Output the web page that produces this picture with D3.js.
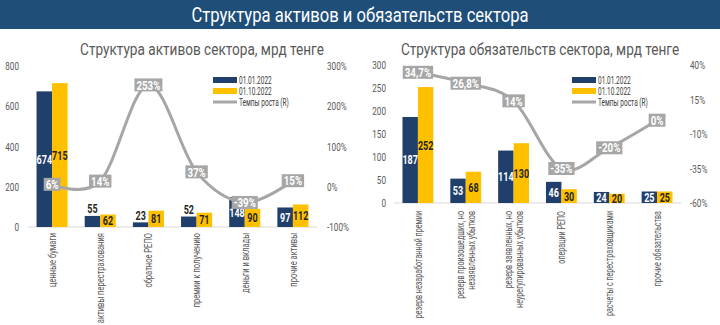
<!DOCTYPE html>
<html><head><meta charset="utf-8">
<script src="https://cdn.jsdelivr.net/npm/d3@7"></script>
<style>
html,body{margin:0;padding:0;background:#fff;}
svg text{font-family:"Roboto","Noto Sans",sans-serif;}
</style></head><body>
<svg id="c" width="720" height="325"></svg>
<script>
const title = "Структура активов и обязательств сектора";
const seriesNames = ["01.01.2022", "01.10.2022", "Темпы роста (R)"];

const assetTitle = "Структура активов сектора, мрд тенге";
const assetCats = [["ценные бумаги"], ["активы перестрахования"], ["обратное РЕПО"], ["премии к получению"], ["деньги и вклады"], ["прочие активы"]];
const assetStart = [674, 55, 23, 52, 148, 97];
const assetEnd = [715, 62, 81, 71, 90, 112];
const assetGrowth = [6, 14, 253, 37, -39, 15];
const assetGrowthLabels = ["6%", "14%", "253%", "37%", "-39%", "15%"];
const assetLeftTicks = [0, 200, 400, 600, 800];
const assetRightTicks = [-100, 0, 100, 200, 300];

const liabTitle = "Структура обязательств сектора, мрд тенге";
const liabCats = [["резерв незаработанной премии"], ["резерв произошедших, но", "незаявленных убытков"], ["резерв заявленных, но", "неурегулированных убытков"], ["операции РЕПО"], ["расчеты с перестраховщиками"], ["прочие обязательства"]];
const liabStart = [187, 53, 114, 46, 24, 25];
const liabEnd = [252, 68, 130, 30, 20, 25];
const liabGrowth = [34.7, 26.8, 14, -35, -20, 0];
const liabGrowthLabels = ["34,7%", "26,8%", "14%", "-35%", "-20%", "0%"];
const liabLeftTicks = [0, 50, 100, 150, 200, 250, 300];
const liabRightTicks = [-60, -35, -10, 15, 40];

const BLUE = "#213f6b", YELLOW = "#ffc000", GRAY = "#a6a6a6", TXT = "#595959";
const NARROW = 0.74;
const svg = d3.select("#c");

function condense(sel, f) {
  sel.each(function () {
    const n = this;
    const spans = n.querySelectorAll("tspan");
    const targets = spans.length ? Array.from(spans) : [n];
    targets.forEach(t => {
      const L = t.getComputedTextLength();
      if (L > 0) { t.setAttribute("textLength", (L * (f || NARROW)).toFixed(2)); t.setAttribute("lengthAdjust", "spacingAndGlyphs"); }
    });
  });
}

svg.append("rect").attr("x", 0).attr("y", 0).attr("width", 720).attr("height", 29).attr("fill", "#1f4e79");
svg.append("text").attr("x", 360).attr("y", 15).attr("dy", "0.36em").attr("text-anchor", "middle")
  .attr("fill", "#fff").attr("font-size", 20).text(title).call(condense, 0.83);

function drawChart(o) {
  const g = svg.append("g");
  const x = d3.scaleBand().domain(d3.range(o.cats.length)).range(o.xr).padding(0);
  const x1 = d3.scaleBand().domain([0, 1]).range([0, x.bandwidth()]).paddingInner(0).paddingOuter(0.55);
  const yL = d3.scaleLinear().domain(o.ld).range(o.yr);
  const yR = d3.scaleLinear().domain(o.rd).range(o.yr);

  g.append("text").attr("x", o.titleX).attr("y", 49).attr("dy", "0.36em").attr("text-anchor", "middle")
    .attr("fill", TXT).attr("font-size", 17).text(o.title).call(condense, 0.8);

  const la = g.append("g").attr("transform", `translate(${o.laX},0)`)
    .call(d3.axisLeft(yL).tickValues(o.lt).tickSize(0).tickPadding(0));
  la.select(".domain").remove();
  la.selectAll("text").attr("fill", TXT).attr("font-size", 11).style("font-family", null).call(condense);
  const ra = g.append("g").attr("transform", `translate(${o.raX},0)`)
    .call(d3.axisRight(yR).tickValues(o.rt).tickSize(0).tickPadding(0).tickFormat(d => d + "%"));
  ra.select(".domain").remove();
  ra.selectAll("text").attr("fill", TXT).attr("font-size", 11).style("font-family", null).call(condense);

  g.append("line").attr("x1", o.xr[0]).attr("x2", o.xr[1]).attr("y1", yL(0)).attr("y2", yL(0))
    .attr("stroke", "#d9d9d9").attr("stroke-width", 1);

  const series = [o.s1, o.s2];
  const colors = [BLUE, YELLOW];
  series.forEach((vals, si) => {
    g.selectAll(null).data(vals).enter().append("rect")
      .attr("x", (d, i) => x(i) + x1(si)).attr("width", x1.bandwidth())
      .attr("y", d => yL(d)).attr("height", d => yL(0) - yL(d)).attr("fill", colors[si]);
  });
  series.forEach((vals, si) => {
    g.selectAll(null).data(vals).enter().append("text")
      .attr("x", (d, i) => x(i) + x1(si) + x1.bandwidth() / 2)
      .attr("y", d => {
        const h = yL(0) - yL(d);
        if (si === 0 && o.outsideSmall && h < 15) return yL(d) - 7;
        return (yL(d) + yL(0)) / 2;
      })
      .attr("dy", "0.36em").attr("text-anchor", "middle").attr("font-weight", "bold").attr("font-size", 12.5)
      .attr("fill", d => {
        const h = yL(0) - yL(d);
        if (si === 0 && !(o.outsideSmall && h < 15)) return "#fff";
        return "#262626";
      })
      .text(d => d).call(condense, 0.72);
  });

  const line = d3.line().x((d, i) => x(i) + x.bandwidth() / 2).y(d => yR(d)).curve(d3.curveCardinal.tension(0));
  g.append("path").datum(o.growth).attr("d", line).attr("fill", "none").attr("stroke", GRAY).attr("stroke-width", 3);

  o.growth.forEach((v, i) => {
    const cx = x(i) + x.bandwidth() / 2, cy = yR(v);
    const t = g.append("text").attr("x", cx).attr("y", cy).attr("dy", "0.36em").attr("text-anchor", "middle")
      .attr("font-weight", "bold").attr("font-size", 13).attr("fill", "#fff").text(o.glabels[i]).call(condense, 0.75);
    const w = +t.attr("textLength");
    g.insert("rect", () => t.node()).attr("x", cx - w / 2 - 2).attr("y", cy - 6.5).attr("width", w + 4).attr("height", 13).attr("fill", GRAY);
  });

  o.cats.forEach((lines, i) => {
    const cx = x(i) + x.bandwidth() / 2;
    const lh = 10.5;
    const t = g.append("text").attr("transform", `translate(${cx},${o.catY}) rotate(-90)`)
      .attr("text-anchor", "end").attr("fill", TXT).attr("font-size", 10.5);
    lines.forEach((ln, j) => {
      t.append("tspan").attr("x", 0).attr("y", (j - (lines.length - 1) / 2) * lh).attr("dy", "0.36em").text(ln);
    });
    t.call(condense, o.catF);
  });

  const lg = g.append("g").attr("transform", `translate(${o.legX},0)`);
  [BLUE, YELLOW].forEach((c, i) => {
    lg.append("rect").attr("x", 0).attr("y", 77 + i * 11).attr("width", 24).attr("height", 6).attr("fill", c);
  });
  lg.append("line").attr("x1", 0).attr("x2", 24).attr("y1", 102).attr("y2", 102).attr("stroke", GRAY).attr("stroke-width", 3);
  seriesNames.forEach((n, i) => {
    lg.append("text").attr("x", 26).attr("y", 80 + i * 11.3).attr("dy", "0.36em").attr("fill", "#404040")
      .attr("font-size", 10.5).text(n).call(condense, 0.62);
  });
}

drawChart({
  title: assetTitle, titleX: 202, cats: assetCats, s1: assetStart, s2: assetEnd, growth: assetGrowth, glabels: assetGrowthLabels,
  xr: [28, 317], yr: [227, 66], ld: [0, 800], rd: [-100, 300], lt: assetLeftTicks, rt: assetRightTicks,
  laX: 19, raX: 327, catY: 233, legX: 213, outsideSmall: true, catF: 0.72
});
drawChart({
  title: liabTitle, titleX: 540, cats: liabCats, s1: liabStart, s2: liabEnd, growth: liabGrowth, glabels: liabGrowthLabels,
  xr: [394, 681], yr: [203, 65], ld: [0, 300], rd: [-60, 40], lt: liabLeftTicks, rt: liabRightTicks,
  laX: 386, raX: 690, catY: 211, legX: 572, outsideSmall: false, catF: 0.68
});
</script>
</body></html>
